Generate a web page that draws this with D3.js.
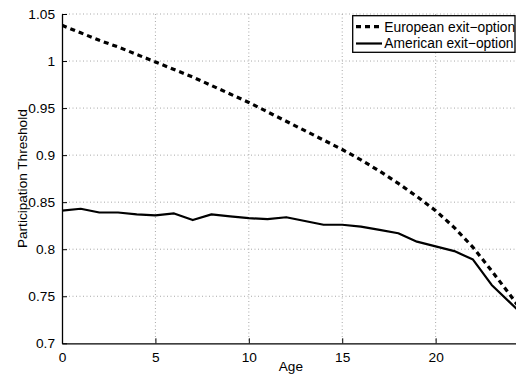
<!DOCTYPE html>
<html>
<head>
<meta charset="utf-8">
<script src="https://cdn.jsdelivr.net/npm/d3@7"></script>
<style>
  html, body { margin: 0; padding: 0; background: #fff; }
  svg { display: block; }
  text { font-family: "Liberation Sans", Arial, Helvetica, sans-serif; }
</style>
</head>
<body>
<svg id="chart" width="516" height="378"></svg>
<script>
// Participation threshold by age for the two exit-option designs
const ages = [0, 1, 2, 3, 4, 5, 6, 7, 8, 9, 10, 11, 12, 13, 14, 15, 16, 17, 18, 19, 20, 21, 22, 23, 24, 25];
const european = [1.038, 1.030, 1.022, 1.015, 1.007, 0.999, 0.991, 0.983, 0.974, 0.965, 0.956,
                  0.946, 0.936, 0.926, 0.916, 0.906, 0.895, 0.883, 0.870, 0.856, 0.841,
                  0.823, 0.802, 0.777, 0.751, 0.724];
const american = [0.841, 0.843, 0.839, 0.839, 0.837, 0.836, 0.838, 0.831, 0.837, 0.835, 0.833,
                  0.832, 0.834, 0.830, 0.826, 0.826, 0.824, 0.8205, 0.817, 0.808, 0.803,
                  0.798, 0.789, 0.762, 0.743, 0.724];
const xTicks = [0, 5, 10, 15, 20];
const yTicks = [0.7, 0.75, 0.8, 0.85, 0.9, 0.95, 1, 1.05];
const yTickLabels = ["0.7", "0.75", "0.8", "0.85", "0.9", "0.95", "1", "1.05"];
const seriesNames = ["European exit\u2212option", "American exit\u2212option"];

const svg = d3.select("#chart");
const m = { left: 62, top: 14, right: 519.7, bottom: 343.3 };

const x = d3.scaleLinear().domain([0, 24.5]).range([m.left, m.right]);
const y = d3.scaleLinear().domain([0.7, 1.05]).range([m.bottom, m.top]);

svg.append("defs").append("clipPath").attr("id", "plotClip")
  .append("rect").attr("x", m.left).attr("y", m.top)
  .attr("width", m.right - m.left).attr("height", m.bottom - m.top);

// dotted grid
const grid = svg.append("g");
grid.selectAll("line.gx").data(xTicks.filter(d => d > 0)).join("line")
  .attr("x1", d => x(d)).attr("x2", d => x(d))
  .attr("y1", m.top).attr("y2", m.bottom)
  .attr("stroke", "#a8a8a8").attr("stroke-width", 1).attr("stroke-dasharray", "1,2.5");
grid.selectAll("line.gy").data(yTicks.filter(d => d > 0.7)).join("line")
  .attr("y1", d => y(d)).attr("y2", d => y(d))
  .attr("x1", m.left).attr("x2", m.right)
  .attr("stroke", "#a8a8a8").attr("stroke-width", 1).attr("stroke-dasharray", "1,2.5");

// data lines
const line = (vals) => d3.line().x((d, i) => x(ages[i])).y(d => y(d))(vals);
const plot = svg.append("g").attr("clip-path", "url(#plotClip)");
plot.append("path").attr("d", line(american))
  .attr("fill", "none").attr("stroke", "#000").attr("stroke-width", 2.2)
  .attr("stroke-linejoin", "round");
plot.append("path").attr("d", line(european))
  .attr("fill", "none").attr("stroke", "#000").attr("stroke-width", 3.2)
  .attr("stroke-dasharray", "5,4");

// axes
const xAxis = d3.axisBottom(x).tickValues(xTicks).tickSizeInner(-5).tickSizeOuter(0)
  .tickPadding(9).tickFormat(d3.format("d"));
const gx = svg.append("g").attr("transform", `translate(0,${m.bottom})`).call(xAxis);
const yAxis = d3.axisLeft(y).tickValues(yTicks).tickSizeInner(-5).tickSizeOuter(0)
  .tickPadding(7).tickFormat((d, i) => yTickLabels[i]);
const gy = svg.append("g").attr("transform", `translate(${m.left},0)`).call(yAxis);

[gx, gy].forEach(g => {
  g.select(".domain").attr("stroke", "#000").attr("stroke-width", 1.3);
  g.selectAll(".tick line").attr("stroke", "#000").attr("stroke-width", 1);
  g.selectAll(".tick text").attr("fill", "#000").attr("font-size", 13.7)
    .attr("font-family", "Liberation Sans, Arial, sans-serif");
});

// axis titles
svg.append("text").attr("x", (m.left + m.right) / 2).attr("y", 371)
  .attr("text-anchor", "middle").attr("font-size", 13.6).text("Age");
svg.append("text").attr("transform", `translate(27,${(m.top + m.bottom) / 2}) rotate(-90)`)
  .attr("text-anchor", "middle").attr("font-size", 13.6).text("Participation Threshold");

// legend
const lg = svg.append("g");
lg.append("rect").attr("x", 352.7).attr("y", 15.7).attr("width", 162.3).attr("height", 36.6)
  .attr("fill", "#fff").attr("stroke", "#000").attr("stroke-width", 1.3);
const rows = [
  { name: seriesNames[0], dash: "5,4", w: 3.2, cy: 26.7 },
  { name: seriesNames[1], dash: null, w: 2.2, cy: 43.5 }
];
rows.forEach(r => {
  lg.append("line").attr("x1", 356).attr("x2", 382).attr("y1", r.cy).attr("y2", r.cy)
    .attr("stroke", "#000").attr("stroke-width", r.w)
    .attr("stroke-dasharray", r.dash);
  lg.append("text").attr("x", 384.3).attr("y", r.cy + 4.8).attr("font-size", 13.8).text(r.name);
});
</script>
</body>
</html>
